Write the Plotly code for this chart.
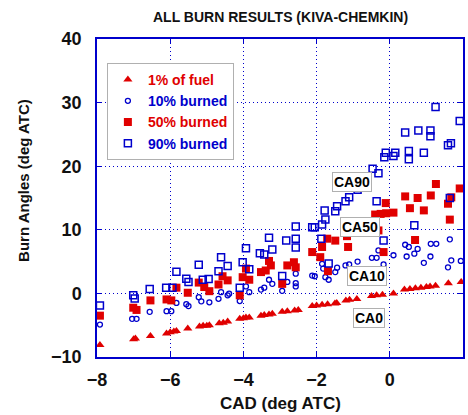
import plotly.graph_objects as go

# ---- data ----
ca0_x = [-7.92, -7.0, -6.95, -6.54, -6.1, -6.0, -5.9, -5.83, -5.52, -5.2, -5.1, -5.0, -4.93,
         -4.66, -4.55, -4.43, -4.1, -4.0, -3.93, -3.84, -3.52, -3.43, -3.3, -3.21, -2.94, -2.8,
         -2.6, -2.5, -2.12, -2.0, -1.85, -1.7, -1.5, -1.45, -1.2, -1.1, -0.9, -0.5, -0.36, -0.2,
         0.1, 0.4, 0.55, 0.7, 0.85, 1.0, 1.1, 1.25, 1.6, 1.95]
ca0_y = [-8.1, -7.2, -7.1, -6.7, -6.3, -6.1, -6.0, -5.9, -5.5, -5.2, -5.1, -5.1, -5.0,
         -4.7, -4.6, -4.4, -4.0, -3.9, -3.8, -3.8, -3.5, -3.4, -3.3, -3.2, -2.9, -2.8,
         -2.7, -2.6, -2.0, -1.9, -1.8, -1.7, -1.6, -1.5, -1.1, -1.0, -0.9, -0.4, -0.3, -0.2,
         0.0, 0.6, 0.7, 0.8, 0.9, 1.0, 1.1, 1.2, 1.6, 1.8]

ca10_x = [-7.92, -7.04, -6.92, -6.56, -6.1, -5.97, -5.83, -5.56, -5.5, -5.22, -5.15, -4.93,
          -4.68, -4.61, -4.43, -4.39, -4.1, -3.93, -3.84, -3.52, -3.43, -3.3, -3.21, -2.94,
          -2.8, -2.57, -2.57, -2.57, -2.12, -2.05, -1.85, -1.82, -1.76, -1.67, -1.49, -1.44,
          -1.21, -1.11, -0.88, -0.49, -0.36, -0.31, -0.17, 0.1, 0.42, 0.46, 0.67, 0.76, 0.52,
          0.93, 1.11, 1.12, 1.27, 1.64, 1.68, 1.59, 1.94]
ca10_y = [-4.9, -4.0, -4.0, -2.9, -2.8, -2.8, -1.5, -1.7, -2.0, -0.6, -1.25, -1.4,
          -0.85, 0.2, -0.3, -0.05, -1.2, 1.1, 0.2, 0.6, 0.9, 2.15, 1.5, 0.4,
          1.8, 1.6, 1.1, 3.1, 2.8, 2.7, 4.65, 3.9, 2.55, 2.15, 3.35, 4.05,
          4.4, 4.55, 5.0, 5.6, 5.6, 6.75, 4.55, 6.0, 7.65, 5.8, 6.25, 7.0, 7.3,
          4.8, 5.8, 7.8, 7.8, 8.5, 5.2, 4.1, 5.1]

ca50_x = [-7.92, -7.01, -6.92, -6.54, -6.1, -5.97, -5.83, -5.52, -5.22, -5.07, -4.93, -4.68,
          -4.57, -4.43, -4.1, -4.02, -3.84, -3.93, -3.52, -3.39, -3.3, -3.25, -2.94, -2.8,
          -2.62, -2.57, -2.12, -1.9, -1.85, -1.71, -1.69, -1.49, -1.17, -1.14, -0.4, -0.25,
          -0.1, 0.1, -0.11, -0.31, -0.17, 0.42, 0.55, 0.76, 0.93, 1.12, 1.26, 1.59, 1.68,
          1.64, 1.91, 0.69]
ca50_y = [-3.5, -2.25, -2.6, -1.1, -0.95, -1.1, 0.9, 0.1, 1.7, 1.0, 0.35, 1.4,
          2.7, 2.05, -0.3, 2.55, 2.15, 3.9, 3.35, 3.6, 5.1, 4.4, 1.5, 4.4,
          4.9, 4.1, 6.5, 5.7, 7.3, 8.6, 3.5, 8.3, 9.0, 7.3, 12.4, 12.5,
          12.6, 12.7, 14.2, 9.9, 6.5, 15.25, 13.4, 15.0, 13.05, 15.4, 17.2, 14.1, 15.1,
          11.6, 16.5, 8.4]

ca90_x = [-7.92, -7.01, -6.97, -6.56, -6.11, -5.94, -5.83, -5.56, -5.5, -5.22, -5.11, -4.95,
          -4.68, -4.61, -4.43, -4.1, -4.02, -3.93, -3.84, -3.55, -3.43, -3.3, -3.21, -2.94,
          -2.83, -2.57, -2.57, -2.57, -2.12, -2.05, -1.87, -1.85, -1.76, -1.78, -1.67, -1.49,
          -1.44, -1.21, -1.11, -0.88, -0.47, -0.31, -0.36, -0.17, -0.15, -0.11, 0.15, 0.1,
          0.52, 0.52, 0.93, 0.42, 0.78, 1.11, 1.11, 1.25, 1.59, 1.67, 1.91, 1.64, 0.67]
ca90_y = [-1.9, -0.3, -0.8, 0.7, 0.9, 0.9, 3.4, 2.3, 1.8, 4.5, 2.15, 2.25,
          3.5, 5.7, 4.3, 0.9, 4.9, 7.1, 3.8, 6.3, 6.1, 8.75, 6.9, 2.75,
          8.3, 8.6, 7.2, 10.5, 10.4, 10.4, 8.6, 10.85, 11.6, 13.05, 4.7, 12.9,
          13.7, 14.5, 15.1, 16.3, 19.6, 18.9, 14.5, 8.3, 21.4, 22.1, 22.1, 21.6,
          22.4, 21.1, 22.1, 25.3, 25.6, 25.6, 24.7, 29.3, 23.3, 23.6, 27.1, 15.0, 10.7]

series_names = ["1% of fuel", "10% burned", "50% burned", "90% burned"]
label_text = ["CA90", "CA50", "CA10", "CA0"]
label_x = [-1.04, -0.81, -0.63, -0.57]
label_y = [17.5, 10.4, 2.75, -3.85]

RED = "#e00000"
BLUE = "#0000cc"
FONT = "Arial, Liberation Sans, sans-serif"

fig = go.Figure()
fig.add_trace(go.Scatter(
    x=ca0_x, y=ca0_y, mode="markers",
    name=f"<span style='color:{RED}'>{series_names[0]}</span>",
    marker=dict(symbol="triangle-up", size=8, color=RED, line=dict(width=0))))
fig.add_trace(go.Scatter(
    x=ca10_x, y=ca10_y, mode="markers",
    name=f"<span style='color:{BLUE}'>{series_names[1]}</span>",
    marker=dict(symbol="circle-open", size=5, color=BLUE, line=dict(width=1.3, color=BLUE))))
fig.add_trace(go.Scatter(
    x=ca50_x, y=ca50_y, mode="markers",
    name=f"<span style='color:{RED}'>{series_names[2]}</span>",
    marker=dict(symbol="square", size=8, color=RED, line=dict(width=0))))
fig.add_trace(go.Scatter(
    x=ca90_x, y=ca90_y, mode="markers",
    name=f"<span style='color:{BLUE}'>{series_names[3]}</span>",
    marker=dict(symbol="square-open", size=7, color=BLUE, line=dict(width=1.5, color=BLUE))))

for t, lx, ly in zip(label_text, label_x, label_y):
    fig.add_annotation(x=lx, y=ly, xref="x", yref="y", text=f"<b>{t}</b>", showarrow=False,
                       font=dict(family=FONT, size=14, color="black"),
                       bgcolor="white", bordercolor="#b0b0b0", borderwidth=1, borderpad=1)

fig.add_annotation(x=0.5, y=1, xref="paper", yref="paper", yshift=22,
                   text="<b>ALL BURN RESULTS (KIVA-CHEMKIN)</b>", showarrow=False,
                   font=dict(family=FONT, size=14, color="#111111"), yanchor="middle")
fig.add_annotation(x=0.5, y=-0.145, xref="paper", yref="paper",
                   text="<b>CAD (deg ATC)</b>", showarrow=False,
                   font=dict(family=FONT, size=17, color="#111111"), yanchor="middle")
fig.add_annotation(x=-0.201, y=0.555, xref="paper", yref="paper", textangle=-90,
                   text="<b>Burn Angles (deg ATC)</b>", showarrow=False,
                   font=dict(family=FONT, size=15, color="#111111"), xanchor="center", yanchor="middle")

axis_common = dict(
    showline=True, linecolor=BLUE, linewidth=1.5, mirror="ticks",
    ticks="inside", ticklen=5, tickcolor=BLUE, tickwidth=1,
    showgrid=True, gridcolor=BLUE, gridwidth=1, griddash="1px,3px",
    zeroline=False,
    tickfont=dict(family=FONT, size=18, color="#111111", weight="bold"),
)
fig.update_xaxes(range=[-8, 2], dtick=2, tick0=-8, ticklabelstandoff=6, **axis_common)
fig.update_yaxes(range=[-10, 40], dtick=10, tick0=-10, ticklabelstandoff=10, **axis_common)

fig.update_layout(
    width=468, height=415,
    margin=dict(l=97, r=3, t=39, b=58),
    paper_bgcolor="white", plot_bgcolor="white",
    font=dict(family=FONT),
    showlegend=True,
    legend=dict(x=0.027, y=0.9245, xanchor="left", yanchor="top",
                bgcolor="white", bordercolor="#b0b0b0", borderwidth=1,
                font=dict(family=FONT, size=14, weight="bold"),
                itemsizing="trace", tracegroupgap=0),
)

fig.write_html("out.html")
